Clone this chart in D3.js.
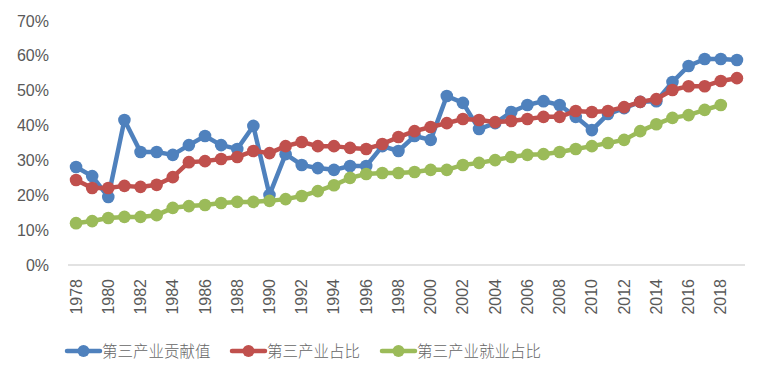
<!DOCTYPE html>
<html><head><meta charset="utf-8">
<script src="https://cdn.jsdelivr.net/npm/d3@7/dist/d3.min.js"></script>
<style>body{margin:0;background:#fff;}svg{display:block;}</style>
</head><body>
<svg id="c" width="768" height="384"></svg>
<script>
const years = d3.range(1978, 2020);
const contribution = [28.1,25.5,19.5,41.6,32.4,32.4,31.6,34.4,37.0,34.4,33.3,39.9,20.1,31.8,28.7,27.8,27.3,28.4,28.4,34.1,32.7,37.0,35.9,48.5,46.5,39.0,40.7,43.9,45.9,47.0,45.9,42.5,38.7,43.3,45.0,46.8,47.0,52.5,57.1,59.1,59.1,58.8];
const share = [24.4,22.1,22.1,22.7,22.4,23.0,25.2,29.5,29.8,30.4,31.0,32.7,32.1,34.1,35.3,34.1,34.1,33.6,33.3,34.7,36.7,38.4,39.6,40.7,41.9,41.6,41.0,41.3,41.9,42.5,42.5,44.2,43.9,44.2,45.3,46.8,47.6,50.2,51.3,51.3,52.8,53.6];
const employment = [12.0,12.6,13.5,13.8,13.8,14.3,16.4,16.9,17.2,17.8,18.1,18.1,18.4,18.9,19.8,21.2,22.9,25.0,26.1,26.4,26.4,26.7,27.3,27.3,28.7,29.3,30.1,31.0,31.6,31.8,32.4,33.3,34.1,35.0,35.9,38.4,40.4,42.2,43.0,44.5,45.9];
const seriesNames = ["第三产业贡献值","第三产业占比","第三产业就业占比"];
const colors = ["#4F81BD","#C0504D","#9BBB59"];
const yTicks = [0,10,20,30,40,50,60,70];

const svg = d3.select("#c");
const L=68, R=745, T=21, B=265;
const x = d3.scaleBand().domain(years).range([L,R]);
const y = d3.scaleLinear().domain([0,70]).range([B,T]);
const font = "'Liberation Sans', Arial, sans-serif";

// y labels
svg.append("g").selectAll("text").data(yTicks).join("text")
  .attr("x",49).attr("y",d=>y(d)).attr("dy","0.35em")
  .attr("text-anchor","end").attr("font-family",font).attr("font-size",16)
  .attr("fill","#595959").text(d=>d+"%");

// x axis line
svg.append("line").attr("x1",L).attr("x2",R).attr("y1",B).attr("y2",B)
  .attr("stroke","#d9d9d9").attr("stroke-width",1.5);

// x labels
svg.append("g").selectAll("text").data(years.filter(d=>d%2===0)).join("text")
  .attr("transform",d=>`translate(${x(d)+x.bandwidth()/2+5.5},${279}) rotate(-90)`)
  .attr("text-anchor","end").attr("font-family",font).attr("font-size",16)
  .attr("fill","#595959").text(d=>d);

const data = [contribution, share, employment];
const cx = i => x(years[i]) + x.bandwidth()/2;
const line = d3.line().x((d,i)=>cx(i)).y(d=>y(d));
data.forEach((s,k)=>{
  const g = svg.append("g");
  g.append("path").datum(s).attr("d",line).attr("fill","none")
   .attr("stroke",colors[k]).attr("stroke-width",4.5).attr("stroke-linejoin","round");
  g.selectAll("circle").data(s).join("circle")
   .attr("cx",(d,i)=>cx(i)).attr("cy",d=>y(d)).attr("r",6.3).attr("fill",colors[k]);
});

// legend
const legX = [67, 232, 382];
seriesNames.forEach((n,k)=>{
  const g = svg.append("g").attr("transform",`translate(${legX[k]},351)`);
  g.append("line").attr("x1",0).attr("x2",33).attr("y1",0).attr("y2",0)
    .attr("stroke",colors[k]).attr("stroke-width",4.5).attr("stroke-linecap","round");
  g.append("circle").attr("cx",16.5).attr("cy",0).attr("r",6).attr("fill",colors[k]);
  g.append("text").attr("x",35).attr("y",0).attr("dy","0.36em")
    .attr("font-family","'Noto Sans CJK SC', sans-serif").attr("font-size",15.5)
    .attr("font-weight",300)
    .attr("fill","#666666").text(n);
});
</script>
</body></html>
